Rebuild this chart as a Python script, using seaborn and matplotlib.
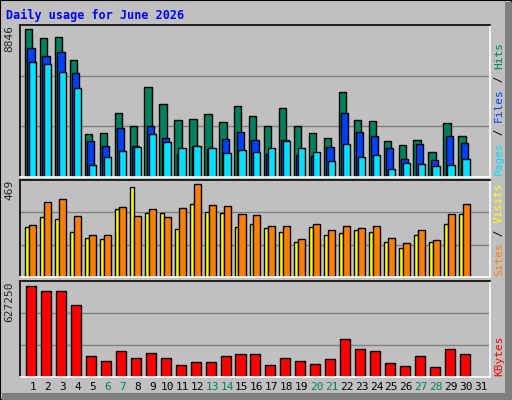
import numpy as np
import matplotlib
matplotlib.use("Agg")
import matplotlib.pyplot as plt
from matplotlib.patches import Rectangle
import seaborn as sns

days = np.arange(1, 32)
weekend_days = [6, 7, 13, 14, 20, 21, 27, 28]

hits = [8846, 8316, 8376, 6993, 2600, 2660, 3803, 3021, 5368, 4345, 3382, 3442, 3743, 3262, 4224,
        3623, 3021, 4104, 3021, 2660, 2359, 5067, 3382, 3322, 2178, 1938, 2239, 1516, 3201, 2479, 0]
files = [7715, 7233, 7474, 6210, 2178, 1877, 2900, 1877, 3021, 2359, 1396, 1877, 1697, 2299, 2720,
         2239, 1396, 2239, 1336, 1276, 1817, 3803, 2720, 2479, 1757, 1095, 1998, 1035, 2479, 2058, 0]
pages = [6872, 6752, 6270, 5308, 734, 1216, 1577, 1817, 2600, 2118, 1757, 1877, 1757, 1456, 1637,
         1516, 1757, 2178, 1757, 1516, 975, 1998, 1216, 1336, 493, 855, 794, 674, 734, 1095, 0]
visits = [251, 302, 291, 230, 195, 190, 342, 454, 322, 322, 241, 367, 327, 322, 251,
          266, 246, 230, 175, 251, 210, 225, 236, 230, 175, 149, 215, 175, 266, 317, 0]
sites = [261, 378, 393, 307, 215, 215, 352, 307, 342, 302, 347, 469, 362, 357, 317,
         312, 256, 256, 190, 266, 236, 256, 246, 256, 195, 170, 236, 185, 317, 367, 0]
kbytes = [627250, 593000, 593000, 497000, 146000, 112000, 181000, 133000, 167000, 133000, 85000,
          105000, 105000, 146000, 160000, 160000, 85000, 133000, 112000, 91000, 126000, 263000,
          194000, 181000, 98000, 78000, 146000, 71000, 194000, 160000, 0]

BG = "#C0C0C0"
sns.set_style("white")
plt.rcParams["font.family"] = ["DejaVu Sans Mono"]

fig = plt.figure(figsize=(5.12, 4.0), dpi=100)
fig.patch.set_facecolor(BG)
W, H = 512, 400


def panel(top, bottom):
    ax = fig.add_axes([20 / W, 1 - bottom / H, 470 / W, (bottom - top) / H])
    ax.set_facecolor(BG)
    ax.set_xlim(0.15, 31.6)
    for s in ["top", "left"]:
        ax.spines[s].set_color("black")
    for s in ["bottom", "right"]:
        ax.spines[s].set_color("white")
    for s in ax.spines.values():
        s.set_linewidth(1.2)
    return ax


def bars(ax, vals, off, width, color):
    vals = np.array(vals)
    mask = vals > 0
    sns.barplot(x=days[mask] + off, y=vals[mask], native_scale=True, width=width,
                color=color, edgecolor="black", linewidth=1, saturation=1, ax=ax)


def finish(ax, vmax, frac, label):
    ax.set_ylim(0, vmax * frac)
    for g in (1 / 3, 2 / 3):
        ax.axhline(vmax * frac * g, color="#808080", lw=1, zorder=0)
    ax.set_xticks([])
    ax.set_yticks([])
    ax.set_xlabel("")
    ax.set_ylabel("")
    ax.text(-0.012, 1.0, label, transform=ax.transAxes, rotation=90, ha="right",
            va="top", fontsize=8)
    ax.set_xlim(0.15, 31.6)


ax1 = panel(25, 177)
bars(ax1, hits, -0.275, 0.49, "#00805C")
bars(ax1, files, -0.115, 0.49, "#0040FF")
bars(ax1, pages, -0.005, 0.49, "#00E0FF")
finish(ax1, max(hits), 151 / 147, str(max(hits)))

ax2 = panel(180, 277)
bars(ax2, visits, -0.36, 0.26, "#FFFF00")
bars(ax2, sites, 0.005, 0.47, "#FF8000")
finish(ax2, max(sites), 96.7 / 92.4, str(max(sites)))

ax3 = panel(281, 377)
bars(ax3, kbytes, -0.095, 0.67, "#FF0000")
finish(ax3, max(kbytes), 96 / 91.3, str(max(kbytes)))

# day labels under the bottom panel
for d in days:
    ax3.text(d, -0.1, str(d), transform=ax3.get_xaxis_transform(), ha="center", va="center",
             fontsize=8, color="#00805C" if d in weekend_days else "black")

# title
fig.text(6 / W, 1 - 15 / H, "Daily usage for June 2026", color="#0000FF", fontsize=8.5,
         fontweight="bold", va="center", ha="left")


# right-hand legends, rotated, stacked bottom to top
def side_label(parts, bottom_px):
    y = bottom_px
    for txt, col in parts:
        t = fig.text(499 / W, 1 - y / H, txt, color=col, rotation=90, fontsize=8,
                     ha="center", va="bottom")
        y -= len(txt) * 6.6


side_label([("Pages", "#00E0FF"), (" / ", "black"), ("Files", "#0040FF"), (" / ", "black"),
            ("Hits", "#00805C")], 175)
side_label([("Sites", "#FF8000"), (" / ", "black"), ("Visits", "#FFFF00")], 276)
side_label([("KBytes", "#FF0000")], 376)

# 3D frame
fig.patches.append(Rectangle((0, 0), 1, 1, transform=fig.transFigure, fill=False,
                             edgecolor="black", lw=1.5))
fig.patches.append(Rectangle((505 / W, 0), 7 / W, 1 - 2 / H, transform=fig.transFigure,
                             facecolor="#808080", edgecolor="none"))
fig.patches.append(Rectangle((2 / W, 0), 1, 7 / H, transform=fig.transFigure,
                             facecolor="#808080", edgecolor="none"))

fig.savefig("out.png", dpi=100, facecolor=BG)
